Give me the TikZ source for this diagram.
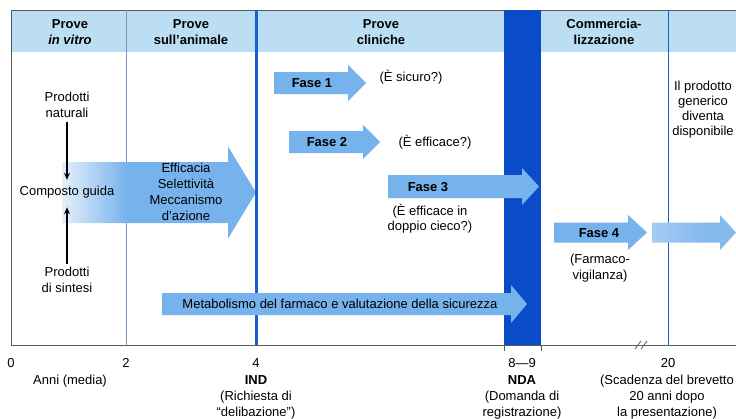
\documentclass[tikz,border=0pt]{standalone}
\usepackage{fontspec}
\setmainfont{Liberation Sans}
\usetikzlibrary{arrows.meta}
\definecolor{hdr}{RGB}{188,222,242}
\definecolor{arw}{RGB}{118,178,236}
\definecolor{darkband}{RGB}{10,76,200}
\definecolor{thickline}{RGB}{26,96,210}
\definecolor{thinline}{RGB}{120,150,195}
\definecolor{axisgray}{RGB}{90,90,90}
\newcommand\fs{\fontsize{13}{16}\selectfont}
\newcommand\barrow[6]{(#1,#4-#5) -- (#3,#4-#5) -- (#3,#4-#6) -- (#2,#4) -- (#3,#4+#6) -- (#3,#4+#5) -- (#1,#4+#5) -- cycle}
\pgfdeclarehorizontalshading{bigfade}{100bp}{color(0bp)=(arw!20); color(25bp)=(arw!20); color(42bp)=(arw); color(100bp)=(arw)}
\pgfdeclarehorizontalshading{postfade}{100bp}{color(0bp)=(arw!65); color(25bp)=(arw!65); color(55bp)=(arw!90); color(100bp)=(arw!90)}
\begin{document}
\begin{tikzpicture}[x=1pt,y=-1pt,
  every node/.style={align=center,inner sep=0pt,font=\fs},
  bt/.style={font=\fs\bfseries},
  thinarrow/.style={line width=1.1pt,-{Stealth[length=7pt,width=6pt]}}]
\useasboundingbox (0,0) rectangle (736,418);
\fill[white] (0,0) rectangle (736,418);
% header band
\fill[hdr] (11,10) rectangle (736,52);
\draw[axisgray,line width=0.7pt] (11,10) -- (736,10);
% vertical lines
\draw[axisgray,line width=0.9pt] (11,10) -- (11,345);
\draw[thinline,line width=0.8pt] (126,10) -- (126,345);
\fill[darkband] (504,10) rectangle (541,345);
\draw[thickline,line width=0.8pt] (668,10) -- (668,345);
% axis
\draw[axisgray,line width=0.9pt] (11,345) -- (736,345);
\draw[axisgray,line width=0.8pt] (504,345) -- (504,351) (541,345) -- (541,351);
\draw[axisgray,line width=0.8pt] (635,349) -- (641,341) (641,349) -- (647,341);
% block arrows
\shade[shading=bigfade] \barrow{62}{256}{228}{192.5}{30.5}{46};
\draw[thickline,line width=3pt] (256,10) -- (256,345);
\fill[arw] \barrow{274}{366}{348}{83}{11}{18};
\fill[arw] \barrow{289}{380}{363}{142}{11}{17};
\fill[arw] \barrow{388}{539}{522}{186.5}{11.5}{18.5};
\fill[arw] \barrow{554}{647}{628}{232.5}{10}{17.5};
\shade[shading=postfade] \barrow{652}{736}{720}{232.5}{10}{17.5};
\fill[arw] \barrow{162}{527}{511}{304}{11}{19};
% header texts
\node[bt] (h1) at (70,32) {Prove\\\textit{in vitro}};
\node[bt] (h2) at (191,32) {Prove\\sull'animale};
\node[bt] (h3) at (381,32) {Prove\\cliniche};
\node[bt] (h4) at (604,32) {Commercia-\\lizzazione};
% left column
\node (nat) at (67,105) {Prodotti\\naturali};
\node (guida) at (67,192) {Composto guida};
\node (sint) at (67,280) {Prodotti\\di sintesi};
\draw[thinarrow,shorten <=4pt,shorten >=6pt] (nat.south) -- (guida.north);
\draw[thinarrow,shorten <=3pt,shorten >=9pt] (sint.north) -- (guida.south);
\node (eff) at (186,192) {Efficacia\\Selettività\\Meccanismo\\d'azione};
% phases
\node[bt] (f1) at (312,83) {Fase 1};
\node (q1) at (411,77) {(È sicuro?)};
\node[bt] (f2) at (327,142) {Fase 2};
\node (q2) at (435,142) {(È efficace?)};
\node[bt] (f3) at (428,187) {Fase 3};
\node[font=\fontsize{13}{15}\selectfont] (q3) at (430,218.5) {(È efficace in\\doppio cieco?)};
\node[bt] (f4) at (599,233) {Fase 4};
\node (q4) at (600,268) {(Farmaco-\\vigilanza)};
\node[font=\fontsize{13}{15}\selectfont] (gen) at (703,109.5) {Il prodotto\\generico\\diventa\\disponibile};
\node (met) at (340,304) {Metabolismo del farmaco e valutazione della sicurezza};
% axis labels
\node (t0) at (11,363) {0};
\node (t2) at (126,363) {2};
\node (t4) at (256,363) {4};
\node (t89) at (522,363) {8—9};
\node (t20) at (668,363) {20};
\node (anni) at (70,381) {Anni (media)};
\node (ind) at (256,397) {\textbf{IND}\\(Richiesta di\\“delibazione”)};
\node (nda) at (522,397) {\textbf{NDA}\\(Domanda di\\registrazione)};
\node (scad) at (667,397) {(Scadenza del brevetto\\20 anni dopo\\la presentazione)};
\end{tikzpicture}
\end{document}
